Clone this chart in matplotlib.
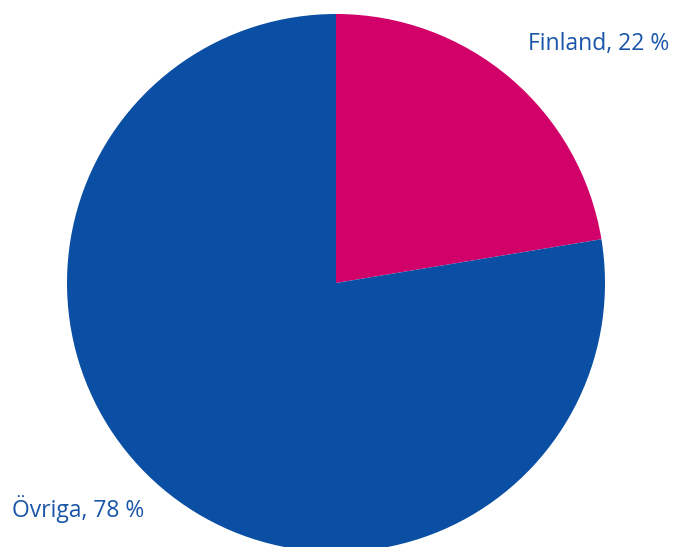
import matplotlib
matplotlib.use("Agg")
import matplotlib.pyplot as plt

categories = ["Finland", "Övriga"]
values = [22.4, 77.6]
label_texts = ["Finland, 22 %", "Övriga, 78 %"]
colors = ["#D20069", "#0A4FA3"]
text_color = "#1A56A8"

W, H = 674, 547
fig = plt.figure(figsize=(W / 100, H / 100), dpi=100)
ax = fig.add_axes([0, 0, 1, 1])
ax.set_xlim(0, W)
ax.set_ylim(0, H)
ax.set_aspect("equal")
ax.axis("off")

cx, cy, r = 336, H - 283, 269
ax.pie(values, colors=colors, startangle=90, counterclock=False,
       center=(cx, cy), radius=r, frame=True,
       wedgeprops=dict(linewidth=0))
ax.set_xlim(0, W)
ax.set_ylim(0, H)
ax.axis("off")

ax.text(528, H - 44, label_texts[0], color=text_color, fontsize=16.5,
        family="Open Sans", ha="left", va="center")
ax.text(12, H - 509, label_texts[1], color=text_color, fontsize=16.5,
        family="Open Sans", ha="left", va="center")

fig.savefig("out.png", dpi=100)
